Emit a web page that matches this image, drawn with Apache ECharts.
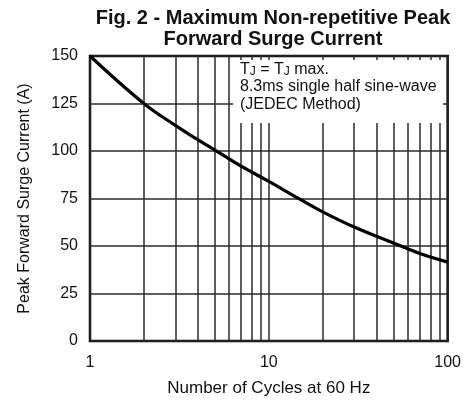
<!DOCTYPE html>
<html>
<head>
<meta charset="utf-8">
<script src="https://cdn.jsdelivr.net/npm/echarts@6/dist/echarts.min.js"></script>
<style>html,body{margin:0;padding:0;background:#fff;}#c{width:464px;height:402px;}</style>
</head>
<body>
<div id="c"></div>
<script>
const cycles = [1, 2, 3, 4, 5, 7, 10, 15, 20, 30, 50, 70, 100];
const current = [150, 125, 113.5, 106, 100.5, 92, 84, 74.5, 68, 60, 51.5, 46, 41.5];
const minorGrid = [2, 3, 4, 5, 6, 7, 8, 9, 20, 30, 40, 50, 60, 70, 80, 90];
const yTicks = { min: 0, max: 150, interval: 25 };
const titleLines = ['Fig. 2 - Maximum Non-repetitive Peak', 'Forward Surge Current'];
const noteLines = ['{t|T}{s|J}{t| = T}{s|J}{t| max.}', '{t|8.3ms single half sine-wave}', '{t|(JEDEC Method)}'];

const FONT = '"Liberation Sans", Arial, sans-serif';
const chart = echarts.init(document.getElementById('c'), null, { renderer: 'canvas' });
const gridColor = '#2a2a2a';
chart.setOption({
  animation: false,
  backgroundColor: '#fff',
  title: {
    text: titleLines.join('\n'),
    left: 268, top: 3, textAlign: 'center',
    textStyle: { fontFamily: FONT, fontWeight: 'bold', fontSize: 20, color: '#111', lineHeight: 21 }
  },
  grid: { left: 90, right: 16, top: 56, bottom: 59, show: true, borderColor: '#000', borderWidth: 2.5, backgroundColor: 'transparent' },
  xAxis: {
    type: 'log', logBase: 10, min: 1, max: 100,
    name: 'Number of Cycles at 60 Hz', nameLocation: 'middle', nameGap: 39,
    nameTextStyle: { fontFamily: FONT, fontSize: 17, color: '#111' },
    axisLine: { show: false },
    axisTick: { show: false },
    axisLabel: { fontFamily: FONT, fontSize: 16, color: '#111', margin: 14 },
    splitLine: { show: true, lineStyle: { color: gridColor, width: 1.5 } }
  },
  yAxis: {
    type: 'value', min: yTicks.min, max: yTicks.max, interval: yTicks.interval,
    name: 'Peak Forward Surge Current (A)', nameLocation: 'middle', nameGap: 57,
    nameTextStyle: { fontFamily: FONT, fontSize: 16, color: '#111' },
    axisLine: { show: false },
    axisTick: { show: false },
    axisLabel: { fontFamily: FONT, fontSize: 16, color: '#111', margin: 12 },
    splitLine: { show: true, lineStyle: { color: gridColor, width: 1.5 } }
  },
  series: [{
    type: 'line',
    data: cycles.map((c, i) => [c, current[i]]),
    smooth: 0.4,
    symbol: 'none',
    lineStyle: { color: '#000', width: 3.2 },
    z: 5,
    markLine: {
      silent: true, symbol: 'none', label: { show: false },
      lineStyle: { color: gridColor, width: 1.5, type: 'solid' },
      data: minorGrid.map(v => ({ xAxis: v }))
    }
  }],
  graphic: [
    { type: 'rect', z: 100, shape: { x: 233, y: 60, width: 210, height: 63 }, style: { fill: '#fff' } },
    { type: 'text', z: 101, left: 240, top: 61,
      style: { text: noteLines.join('\n'), fill: '#111',
        rich: { t: { fontFamily: FONT, fontSize: 16, lineHeight: 17.5, fill: '#111' },
                s: { fontFamily: FONT, fontSize: 12, lineHeight: 17.5, fill: '#111', padding: [5, 0, 0, 0] } } } }
  ]
});
</script>
</body>
</html>
